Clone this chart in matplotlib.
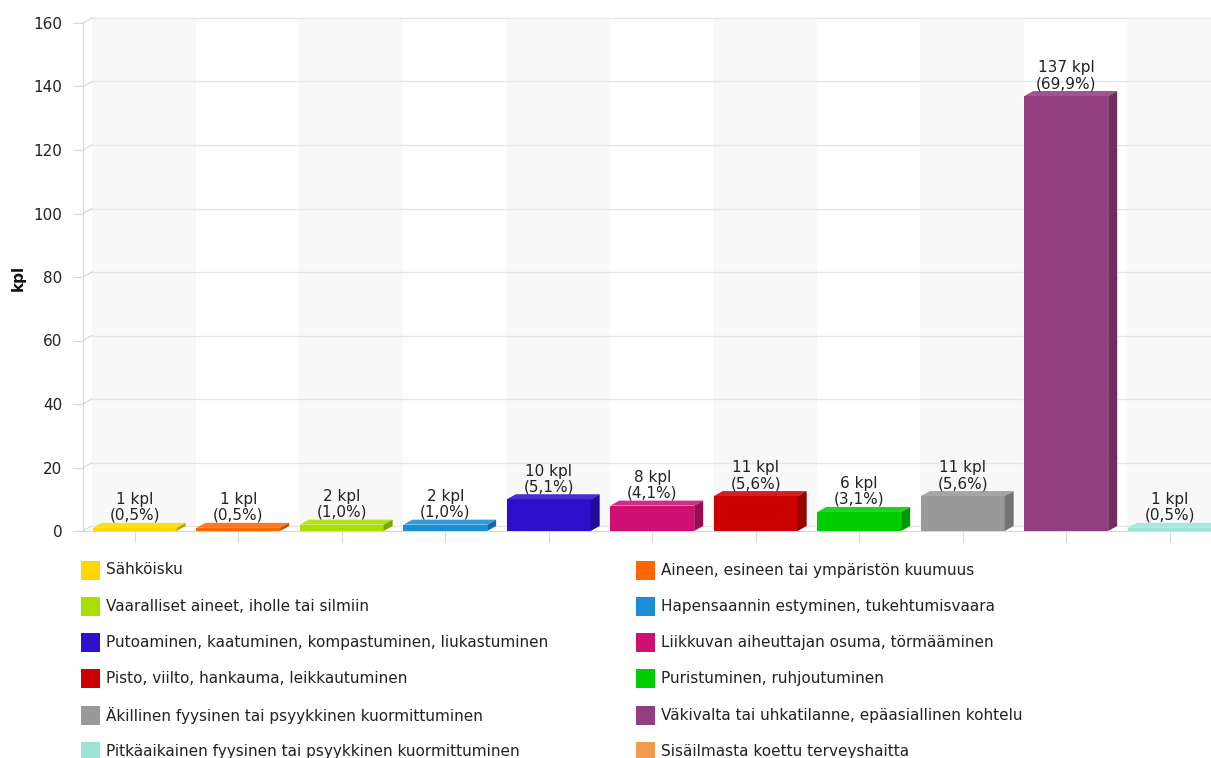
import matplotlib
matplotlib.use("Agg")
import matplotlib.pyplot as plt
from matplotlib.patches import Polygon, Rectangle
import matplotlib.transforms as mtransforms
import matplotlib.colors as mcolors

categories = [
    "Sähköisku",
    "Aineen, esineen tai ympäristön kuumuus",
    "Vaaralliset aineet, iholle tai silmiin",
    "Hapensaannin estyminen, tukehtumisvaara",
    "Putoaminen, kaatuminen, kompastuminen, liukastuminen",
    "Liikkuvan aiheuttajan osuma, törmääminen",
    "Pisto, viilto, hankauma, leikkautuminen",
    "Puristuminen, ruhjoutuminen",
    "Äkillinen fyysinen tai psyykkinen kuormittuminen",
    "Väkivalta tai uhkatilanne, epäasiallinen kohtelu",
    "Pitkäaikainen fyysinen tai psyykkinen kuormittuminen",
    "Sisäilmasta koettu terveyshaitta",
]
counts = [1, 1, 2, 2, 10, 8, 11, 6, 11, 137, 1, 6]
colors = ["#ffd700", "#ff6600", "#aadd00", "#1a8fd6", "#2e10cc", "#cf0f72",
          "#cc0000", "#00cc00", "#999999", "#933d83", "#9fe3d6", "#f29a4e"]
yticks = [0, 20, 40, 60, 80, 100, 120, 140, 160]

plt.rcParams["font.family"] = ["DejaVu Sans"]

W, H, DPI = 1211, 758, 100
fig = plt.figure(figsize=(W / DPI, H / DPI), dpi=DPI)

# plot area (front plane), extends past the right edge of the canvas
left_px, bottom_px, top_px = 83, 531, 23
slot_px = 103.5
n = len(categories)
ax = fig.add_axes([left_px / W, (H - bottom_px) / H, n * slot_px / W, (bottom_px - top_px) / H])
ax.set_xlim(-0.5, n - 0.5)
ax.set_ylim(0, 160)
ax.patch.set_alpha(0)

# depth of the 3D effect in pixels
DX, DY = 9, 5
back = mtransforms.offset_copy(ax.transData, fig=fig, x=DX, y=DY, units="dots")
px_x = slot_px
px_y = (bottom_px - top_px) / 160
ddx, ddy = DX / px_x, DY / px_y

# alternating background bands on the back wall
for i in range(n):
    if i % 2 == 0:
        ax.add_patch(Rectangle((i - 0.5, 0), 1, 160, transform=back,
                               facecolor="#f8f8f8", edgecolor="none", zorder=0,
                               clip_on=False))

# gridlines on the back wall plus the slanted connectors to the axis
for v in yticks:
    ax.plot([-0.5, n - 0.5], [v, v], transform=back, color="#e6e6e6", lw=1,
            zorder=1, clip_on=False)
    ax.plot([-0.5, -0.5 + ddx], [v, v + ddy], color="#dcdcdc", lw=1, zorder=1,
            clip_on=False)


def shade(c, f):
    r, g, b = mcolors.to_rgb(c)
    return (r * f, g * f, b * f)


def lighten(c, f):
    r, g, b = mcolors.to_rgb(c)
    return (r + (1 - r) * f, g + (1 - g) * f, b + (1 - b) * f)


bw = 0.81
total = sum(counts)
ax.bar(range(n), counts, width=bw, color=colors, edgecolor="none", zorder=3)
for i, (v, c) in enumerate(zip(counts, colors)):
    x0, x1 = i - bw / 2, i + bw / 2
    top = Polygon([(x0, v), (x1, v), (x1 + ddx, v + ddy), (x0 + ddx, v + ddy)],
                  closed=True, facecolor=lighten(c, 0.12), edgecolor="none", zorder=3)
    side = Polygon([(x1, 0), (x1 + ddx, ddy), (x1 + ddx, v + ddy), (x1, v)],
                   closed=True, facecolor=shade(c, 0.75), edgecolor="none", zorder=3)
    ax.add_patch(top)
    ax.add_patch(side)
    pct = f"{v / total * 100:.1f}".replace(".", ",")
    ax.text(i, v + ddy, f"{v} kpl\n({pct}%)", ha="center", va="bottom",
            fontsize=11, color="#222222", linespacing=1.05, zorder=5)

# axes styling
for s in ["top", "right"]:
    ax.spines[s].set_visible(False)
ax.spines["left"].set_color("#d8d8d8")
ax.spines["bottom"].set_color("#d8d8d8")
ax.set_yticks(yticks)
ax.set_yticklabels([str(t) for t in yticks], fontsize=11, color="#222222")
ax.tick_params(axis="y", length=7, color="#d8d8d8", pad=8)
ax.set_xticks(range(n))
ax.set_xticklabels([])
ax.tick_params(axis="x", length=8, color="#d8d8d8")

fig.text(18 / W, 1 - 278 / H, "kpl", rotation=90, ha="center", va="center",
         fontsize=11, fontweight="bold", color="#111111")

# legend in two columns below the plot
col_x = [81, 636]
row_y0, row_step = 570, 36.3
sq = 19
for k, (name, c) in enumerate(zip(categories, colors)):
    col, row = k % 2, k // 2
    cx = col_x[col]
    cy = row_y0 + row * row_step
    fig.patches.append(Rectangle((cx / W, 1 - (cy + sq / 2) / H), sq / W, sq / H,
                                 transform=fig.transFigure, facecolor=c,
                                 edgecolor="none"))
    fig.text((cx + sq + 6) / W, 1 - cy / H, name, ha="left", va="center",
             fontsize=11, color="#222222")

fig.savefig("out.png", dpi=DPI)
